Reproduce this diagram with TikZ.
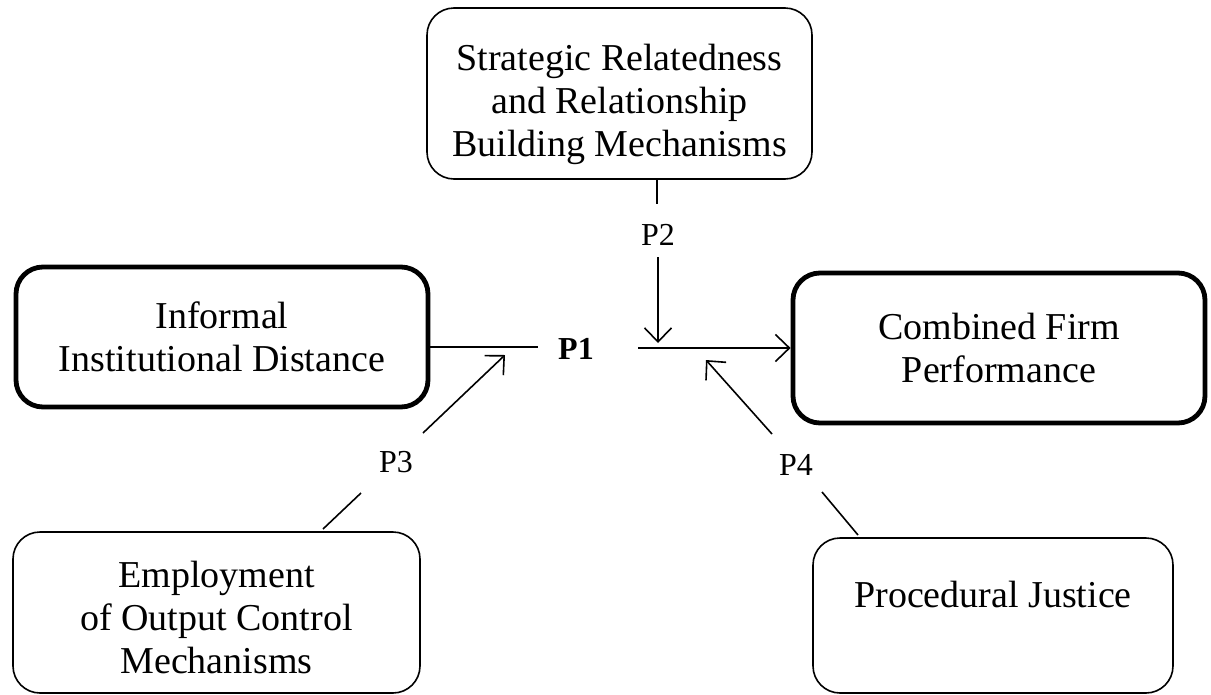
\documentclass[tikz,border=0pt]{standalone}
\usepackage{fontspec}
\setmainfont{Liberation Serif}
\usetikzlibrary{arrows.meta}
\begin{document}
\begin{tikzpicture}[x=1pt,y=-1pt,
  box/.style={draw, line width=1.6pt, rounded corners=27pt, align=center, inner sep=0pt,
    font=\fontsize{38}{43}\selectfont},
  thickbox/.style={box, line width=4.8pt},
  plabel/.style={inner sep=0pt, font=\fontsize{32}{36}\selectfont},
  conn/.style={line width=1.6pt},
  arr/.style={conn, -{Straight Barb[length=14pt,width=27pt,line width=1.6pt]}}]
\useasboundingbox (0,0) rectangle (1211,694);

\node[box, minimum width=385pt, minimum height=171pt] (top) at (619.5,93.5)
  {\rule{0pt}{48pt}Strategic Relatedness\\and Relationship\\Building Mechanisms};
\node[thickbox, minimum width=412pt, minimum height=140pt] (left) at (222,337)
  {Informal\\Institutional Distance};
\node[thickbox, minimum width=412pt, minimum height=150pt] (right) at (999,348)
  {Combined Firm\\Performance};
\node[box, minimum width=407pt, minimum height=161pt] (bl) at (216.5,612.5)
  {\rule{0pt}{36pt}Employment\\of Output Control\\Mechanisms};
\node[box, minimum width=360pt, minimum height=155pt] (br) at (993,615.5)
  {Procedural Justice\\\mbox{}};

\node[plabel, font=\fontsize{32}{36}\selectfont\bfseries] (p1) at (576,349) {P1};
\node[plabel] (p2) at (658,235) {P2};
\node[plabel] (p3) at (396,462) {P3};
\node[plabel] (p4) at (796,465) {P4};

% P1 main path
\coordinate (l1) at (538,347);
\coordinate (r0) at (638,348);
\draw[conn] (left.east |- l1) -- (l1);
\draw[arr] (r0) -- (r0 -| right.west);

% P2
\coordinate (c2a) at (657,204);
\coordinate (c2b) at (658,257);
\coordinate (c2t) at (658,343);
\draw[conn] (c2a |- top.south) -- (c2a);
\draw[arr] (c2b) -- (c2t);

% P3
\coordinate (c3a) at (323,529);
\coordinate (c3b) at (361,493);
\coordinate (c3c) at (423,433);
\coordinate (c3t) at (505,355);
\draw[conn] (c3a) -- (c3b);
\draw[arr] (c3c) -- (c3t);

% P4
\coordinate (c4a) at (858,535);
\coordinate (c4b) at (822,492);
\coordinate (c4c) at (772,434);
\coordinate (c4t) at (706,360);
\draw[conn] (c4a) -- (c4b);
\draw[arr] (c4c) -- (c4t);
\end{tikzpicture}
\end{document}
